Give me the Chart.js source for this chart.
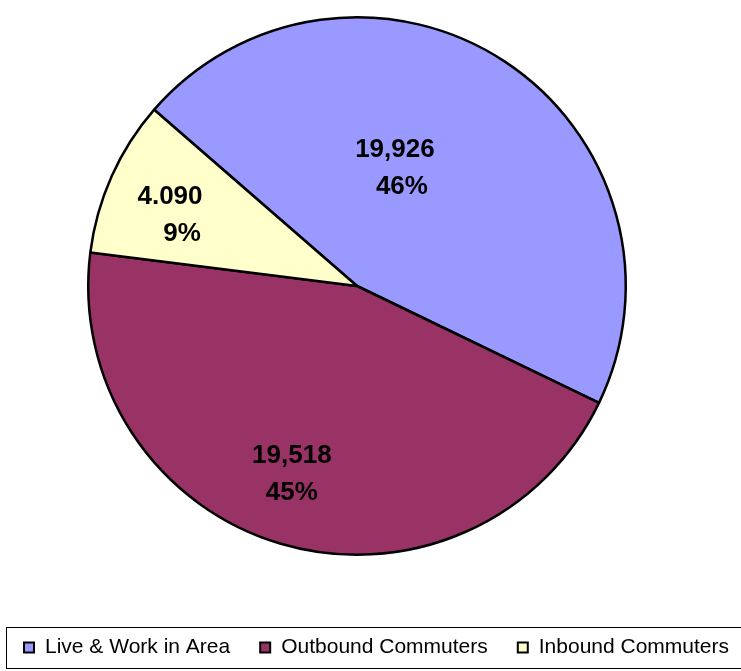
<!DOCTYPE html>
<html>
<head>
<meta charset="utf-8">
<script src="https://cdn.jsdelivr.net/npm/chart.js@4/dist/chart.umd.min.js"></script>
<style>
  html, body { margin: 0; padding: 0; background: #fff; }
  #wrap { width: 741px; height: 671px; position: relative; }
</style>
</head>
<body>
<div id="wrap"><canvas id="myChart"></canvas></div>
<script>
// chart data
var categories = ['Live & Work in Area', 'Outbound Commuters', 'Inbound Commuters'];
var commuters = [19926, 19518, 4090];
var valueLabels = ['19,926', '19,518', '4.090'];
var sliceColors = ['#9999FF', '#993366', '#FFFFCC'];

var FONT = "'Liberation Sans', Arial, sans-serif";

// value + percent text inside each slice
var sliceLabels = {
  id: 'sliceLabels',
  afterDatasetsDraw: function(chart, args, opts) {
    var ctx = chart.ctx;
    var meta = chart.getDatasetMeta(0);
    var total = commuters.reduce(function(a, b) { return a + b; }, 0);
    ctx.save();
    ctx.font = 'bold 26px ' + FONT;
    ctx.fillStyle = '#000';
    ctx.textAlign = 'center';
    ctx.textBaseline = 'middle';
    meta.data.forEach(function(arc, i) {
      var p = arc.getProps(['x', 'y', 'startAngle', 'endAngle', 'outerRadius'], true);
      var mid = (p.startAngle + p.endAngle) / 2;
      var r = p.outerRadius * opts.radiusFrac;
      var off = opts.offsets[i];
      var cx = p.x + Math.cos(mid) * r + off[0];
      var cy = p.y + Math.sin(mid) * r + off[1];
      var pct = Math.round(commuters[i] / total * 100) + '%';
      ctx.fillText(valueLabels[i], cx, cy - opts.lineGap / 2);
      ctx.fillText(pct, cx + off[2], cy + opts.lineGap / 2);
    });
    ctx.restore();
  }
};

// boxed legend along the bottom
var boxLegend = {
  id: 'boxLegend',
  afterDraw: function(chart, args, opts) {
    var ctx = chart.ctx;
    ctx.save();
    ctx.strokeStyle = '#000';
    ctx.lineWidth = 1;
    ctx.strokeRect(opts.left + 0.5, opts.top + 0.5, chart.width, opts.height);
    ctx.font = opts.fontSize + 'px ' + FONT;
    ctx.textBaseline = 'middle';
    var x = opts.startX;
    var cy = opts.top + opts.height / 2;
    categories.forEach(function(name, i) {
      ctx.fillStyle = sliceColors[i];
      ctx.fillRect(x, cy - 5, 10, 10);
      ctx.strokeStyle = '#000';
      ctx.lineWidth = 2;
      ctx.strokeRect(x, cy - 5, 10, 10);
      ctx.fillStyle = '#000';
      ctx.fillText(name, x + 21, cy);
      x += 21 + ctx.measureText(name).width + opts.gap;
    });
    ctx.restore();
  }
};

new Chart(document.getElementById('myChart'), {
  type: 'pie',
  data: {
    labels: categories,
    datasets: [{
      data: commuters,
      backgroundColor: sliceColors,
      borderColor: '#000',
      borderWidth: 2.5
    }]
  },
  options: {
    responsive: true,
    maintainAspectRatio: false,
    animation: false,
    rotation: -49,
    events: [],
    layout: { padding: { top: 16, bottom: 115, left: 87, right: 114 } },
    plugins: {
      legend: { display: false },
      tooltip: { enabled: false },
      sliceLabels: {
        radiusFrac: 0.75,
        lineGap: 37,
        offsets: [[-73, 51, 7], [-8, -5, 0], [-3, 12, 12]]
      },
      boxLegend: { left: 6, top: 627, height: 41, startX: 24, gap: 30, fontSize: 21 }
    }
  },
  plugins: [sliceLabels, boxLegend]
});
</script>
</body>
</html>
